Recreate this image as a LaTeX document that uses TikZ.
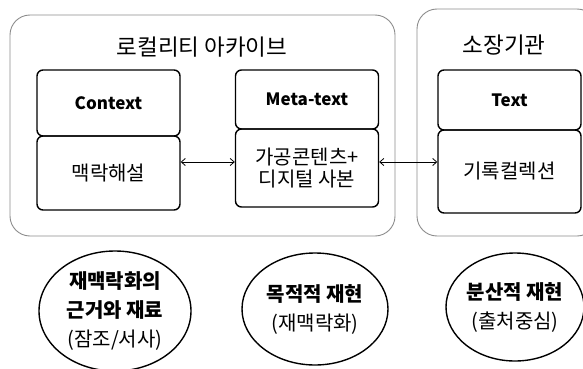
\documentclass[tikz,border=0pt]{standalone}
\usepackage{fontspec}
\setmainfont{Noto Sans CJK KR}
\usetikzlibrary{shapes.geometric,arrows.meta}
\tikzset{
  outerbox/.style={draw=black!45, line width=0.9pt, rounded corners=20pt},
  cell/.style={draw=black, line width=1.4pt, rounded corners=6pt, minimum width=143pt, inner sep=0pt, font=\fontsize{20}{22}\selectfont},
  headcell/.style={cell, font=\fontsize{17}{20}\selectfont\bfseries},
  titletext/.style={font=\fontsize{22.5}{26}\selectfont, inner sep=0pt},
  oval/.style={ellipse, draw=black, line width=1.4pt, inner sep=0pt, align=center, font=\fontsize{20}{29}\selectfont},
  link/.style={{Straight Barb[length=4pt,width=7pt]}-{Straight Barb[length=4pt,width=7pt]}, line width=0.8pt}
}
\begin{document}
\begin{tikzpicture}[x=1pt,y=-1pt]
\useasboundingbox (0,0) rectangle (583,369);
% outer containers
\node[outerbox, minimum width=385pt, minimum height=221pt] (arch) at (202.5,125.5) {};
\node[outerbox, minimum width=180pt, minimum height=227pt] (inst) at (507,122.5) {};
\node[titletext] (archT) at (202,47) {로컬리티 아카이브};
\node[titletext] (instT) at (504,45) {소장기관};
% cells
\node[headcell, minimum height=66pt] (ctxH) at (108.5,103) {Context};
\node[cell, minimum height=74pt] (ctxB) at (108.5,173) {맥락해설};
\node[headcell, minimum height=59pt] (metaH) at (307,99.5) {Meta-text};
\node[cell, minimum height=78pt, align=center] (metaB) at (307,168) {가공콘텐츠+\\디지털 사본};
\node[headcell, minimum height=60pt] (textH) at (509.5,100) {Text};
\node[cell, minimum height=83pt] (textB) at (509.5,171.5) {기록컬렉션};
% arrows
\coordinate (ay) at (0,162);
\draw[link] (ctxB.east |- ay) -- (metaB.west |- ay);
\draw[link] (metaB.east |- ay) -- (textB.west |- ay);
% ellipses
\node[oval, minimum width=152pt, minimum height=120pt] (e1) at (115,311) {\textbf{재맥락화의}\\\textbf{근거와 재료}\\(잠조/서사)};
\node[oval, minimum width=146pt, minimum height=112pt] (e2) at (315,309) {\textbf{목적적 재현}\\(재맥락화)};
\node[oval, minimum width=138pt, minimum height=108pt] (e3) at (515,307) {\textbf{분산적 재현}\\(출처중심)};
\end{tikzpicture}
\end{document}
